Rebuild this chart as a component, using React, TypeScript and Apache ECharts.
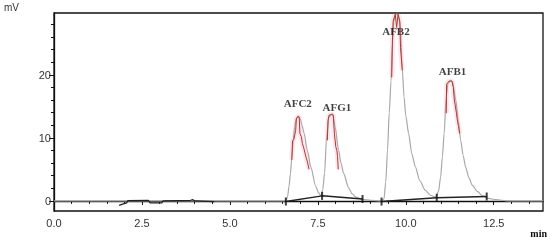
import React, { useEffect, useRef } from "react";
import * as echarts from "echarts";

// Chromatogram trace (retention time in min, signal in mV)
const chromatogram: [number, number][] = [
  [0, 0], [6.55, 0], [6.6, 0.1], [6.64, 0.7], [6.68, 2.3], [6.72, 4.3], [6.76, 6.8], [6.8, 9.5],
  [6.84, 11.8], [6.89, 13.1], [6.95, 13.4], [7.0, 13.0], [7.05, 12.0], [7.11, 10.7], [7.2, 8.0],
  [7.3, 5.4], [7.44, 2.3], [7.52, 1.3], [7.59, 0.8], [7.64, 1.8], [7.69, 4.4], [7.75, 10.2],
  [7.81, 13.2], [7.87, 13.7], [7.92, 13.8], [7.99, 11.8], [8.09, 8.0], [8.16, 6.0], [8.23, 4.4],
  [8.38, 2.0], [8.48, 1.1], [8.58, 0.6], [8.77, 0.25], [9.0, 0.1], [9.3, 0], [9.38, 0.3],
  [9.43, 3], [9.48, 8], [9.53, 14], [9.58, 19], [9.62, 25], [9.66, 28.5], [9.72, 29.6],
  [9.78, 29.6], [9.84, 28], [9.9, 21], [9.95, 16.5], [10.0, 13.5], [10.08, 10.7], [10.17, 7.5],
  [10.27, 5.4], [10.4, 3.2], [10.55, 1.7], [10.7, 0.9], [10.85, 0.6], [10.93, 1.5], [10.99, 3.8],
  [11.04, 7], [11.09, 10.7], [11.15, 16.5], [11.2, 18.7], [11.27, 19.1], [11.33, 18.9],
  [11.42, 16.0], [11.49, 12.8], [11.56, 9.6], [11.63, 7.2], [11.7, 5.4], [11.79, 3.7],
  [11.89, 2.5], [12.03, 1.5], [12.18, 0.8], [12.35, 0.4], [12.56, 0.2], [12.9, 0], [13.9, 0],
];

// Red hand-traced overlays on peak tops
const afc2Trace: [number, number][] = [
  [6.76, 6.5], [6.78, 9.5], [6.82, 9.8], [6.87, 11.2], [6.89, 13.0], [6.93, 13.4], [6.97, 13.3],
  [6.99, 10.7], [7.03, 10.2], [7.06, 9.1], [7.1, 8.4], [7.16, 7.0], [7.2, 6.3], [7.25, 5.0],
];
const afg1Trace: [number, number][] = [
  [7.77, 9.6], [7.79, 12.8], [7.82, 13.6], [7.9, 13.7], [7.94, 13.6], [7.97, 10.7],
  [8.01, 8.6], [8.04, 8.0], [8.06, 7.0], [8.08, 5.0],
];
const afb2Trace: [number, number][] = [
  [9.6, 19.6], [9.62, 25.4], [9.64, 28.5], [9.7, 29.6], [9.74, 27.5], [9.78, 29.6],
  [9.83, 28.5], [9.85, 24.3], [9.9, 20.7],
];
const afb1Trace: [number, number][] = [
  [11.15, 13.9], [11.16, 18.5], [11.23, 19.0], [11.31, 19.0], [11.35, 18.0], [11.38, 16.0],
  [11.44, 13.9], [11.47, 12.6], [11.5, 11.8], [11.53, 10.7],
];

// Integration baselines and their marks
const integrationA: [number, number][] = [[6.59, -0.1], [7.62, 0.8], [8.77, 0.3]];
const integrationB: [number, number][] = [[9.31, -0.1], [10.88, 0.5], [12.3, 0.7]];
const noiseTrace: [number, number][] = [
  [1.85, -0.7], [1.95, -0.5], [2.07, -0.3], [2.1, 0.05], [2.68, 0.1], [2.73, -0.3],
  [3.07, -0.3], [3.1, 0], [3.88, 0.1], [3.95, 0.2], [4.0, 0], [4.56, -0.1],
];

// Peak labels
const peakNames = ["AFC2", "AFG1", "AFB2", "AFB1"];
const peakLabelTimes = [6.93, 8.04, 9.72, 11.33];
const peakLabelLevels = [15.5, 14.9, 27.0, 20.6];

// Axis ticks
const xMajorTicks = [0, 2.5, 5, 7.5, 10, 12.5];
const xMinorTicks = [0.5, 1, 1.5, 2, 3, 3.5, 4, 4.5, 5.5, 6, 6.5, 7, 8, 8.5, 9, 9.5, 10.5, 11, 11.5, 12, 13, 13.5];
const yMajorTicks = [0, 10, 20];
const yMinorTicks = [2, 4, 6, 8, 12, 14, 16, 18, 22, 24, 26, 28];

const X_MIN = 0;
const X_MAX = 13.9;
const Y_MIN = -1.6;
const Y_MAX = 29.8;

export default function App() {
  const ref = useRef<HTMLDivElement>(null);

  useEffect(() => {
    if (!ref.current) return;
    const chart = echarts.init(ref.current, undefined, { renderer: "svg" });
    const axisFont = { fontFamily: "Liberation Sans, Arial, sans-serif", fontSize: 11, color: "#333" };
    const redLine = (data: [number, number][]) => [
      {
        type: "line",
        data,
        showSymbol: false,
        z: 3,
        lineStyle: { color: "rgba(245,140,175,0.22)", width: 5 },
        silent: true,
      },
      {
        type: "line",
        data,
        showSymbol: false,
        z: 4,
        lineStyle: { color: "#b0392e", width: 1 },
        silent: true,
      },
    ];
    chart.setOption({
      animation: false,
      grid: {
        left: 54,
        right: 7,
        top: 13,
        bottom: 33,
        show: true,
        borderColor: "#111",
        borderWidth: 1.3,
        backgroundColor: "transparent",
      },
      xAxis: [
        {
          type: "value",
          min: X_MIN,
          max: X_MAX,
          position: "bottom",
          axisLine: { show: true, lineStyle: { color: "#111", width: 1.3 } },
          axisTick: { show: true, customValues: xMajorTicks, length: 4, lineStyle: { color: "#111" } },
          axisLabel: {
            customValues: xMajorTicks,
            formatter: (v: number) => v.toFixed(1),
            margin: 6,
            ...axisFont,
          },
          splitLine: { show: false },
        },
        {
          type: "value",
          min: X_MIN,
          max: X_MAX,
          position: "bottom",
          axisLine: { show: false },
          axisTick: { show: true, customValues: xMinorTicks, length: 3, lineStyle: { color: "#111" } },
          axisLabel: { show: false },
          splitLine: { show: false },
        },
      ],
      yAxis: [
        {
          type: "value",
          min: Y_MIN,
          max: Y_MAX,
          position: "left",
          axisLine: { show: true, lineStyle: { color: "#111", width: 1.3 } },
          axisTick: { show: true, customValues: yMajorTicks, length: 5, lineStyle: { color: "#111" } },
          axisLabel: { customValues: yMajorTicks, margin: 3, ...axisFont },
          splitLine: { show: false },
        },
        {
          type: "value",
          min: Y_MIN,
          max: Y_MAX,
          position: "left",
          axisLine: { show: false },
          axisTick: { show: true, customValues: yMinorTicks, length: 3, lineStyle: { color: "#111" } },
          axisLabel: { show: false },
          splitLine: { show: false },
        },
      ],
      graphic: [
        {
          type: "text",
          left: 4,
          top: 2,
          style: { text: "mV", font: "10px Liberation Sans, Arial, sans-serif", fill: "#333" },
        },
        {
          type: "text",
          right: 3,
          top: 228,
          style: { text: "min", font: "bold 10px Liberation Serif, Times New Roman, serif", fill: "#111" },
        },
      ],
      series: [
        {
          type: "line",
          data: chromatogram,
          showSymbol: false,
          smooth: 0.25,
          smoothMonotone: "x",
          z: 2,
          lineStyle: { color: "#a8a8a8", width: 1.2 },
          silent: true,
        },
        ...redLine(afc2Trace),
        ...redLine(afg1Trace),
        ...redLine(afb2Trace),
        ...redLine(afb1Trace),
        {
          type: "line",
          data: integrationA,
          showSymbol: false,
          z: 5,
          lineStyle: { color: "#222", width: 1.5 },
        },
        {
          type: "line",
          data: integrationB,
          showSymbol: false,
          z: 5,
          lineStyle: { color: "#222", width: 1.5 },
        },
        {
          type: "line",
          data: noiseTrace,
          showSymbol: false,
          z: 5,
          lineStyle: { color: "#222", width: 1.2 },
        },
        {
          type: "scatter",
          data: [...integrationA, ...integrationB],
          symbol: "rect",
          symbolSize: [2, 8],
          z: 6,
          itemStyle: { color: "#111" },
        },
        {
          type: "scatter",
          data: peakNames.map((n, i) => ({ name: n, value: [peakLabelTimes[i], peakLabelLevels[i]] })),
          symbolSize: 0,
          z: 7,
          label: {
            show: true,
            position: "inside",
            formatter: (p: any) => p.name,
            fontFamily: "Liberation Serif, Times New Roman, serif",
            fontWeight: "bold",
            fontSize: 11,
            color: "#111",
          },
        },
      ],
    });
    return () => chart.dispose();
  }, []);

  return (
    <div
      ref={ref}
      style={{ position: "fixed", left: 0, top: 0, width: 550, height: 244 }}
    />
  );
}
